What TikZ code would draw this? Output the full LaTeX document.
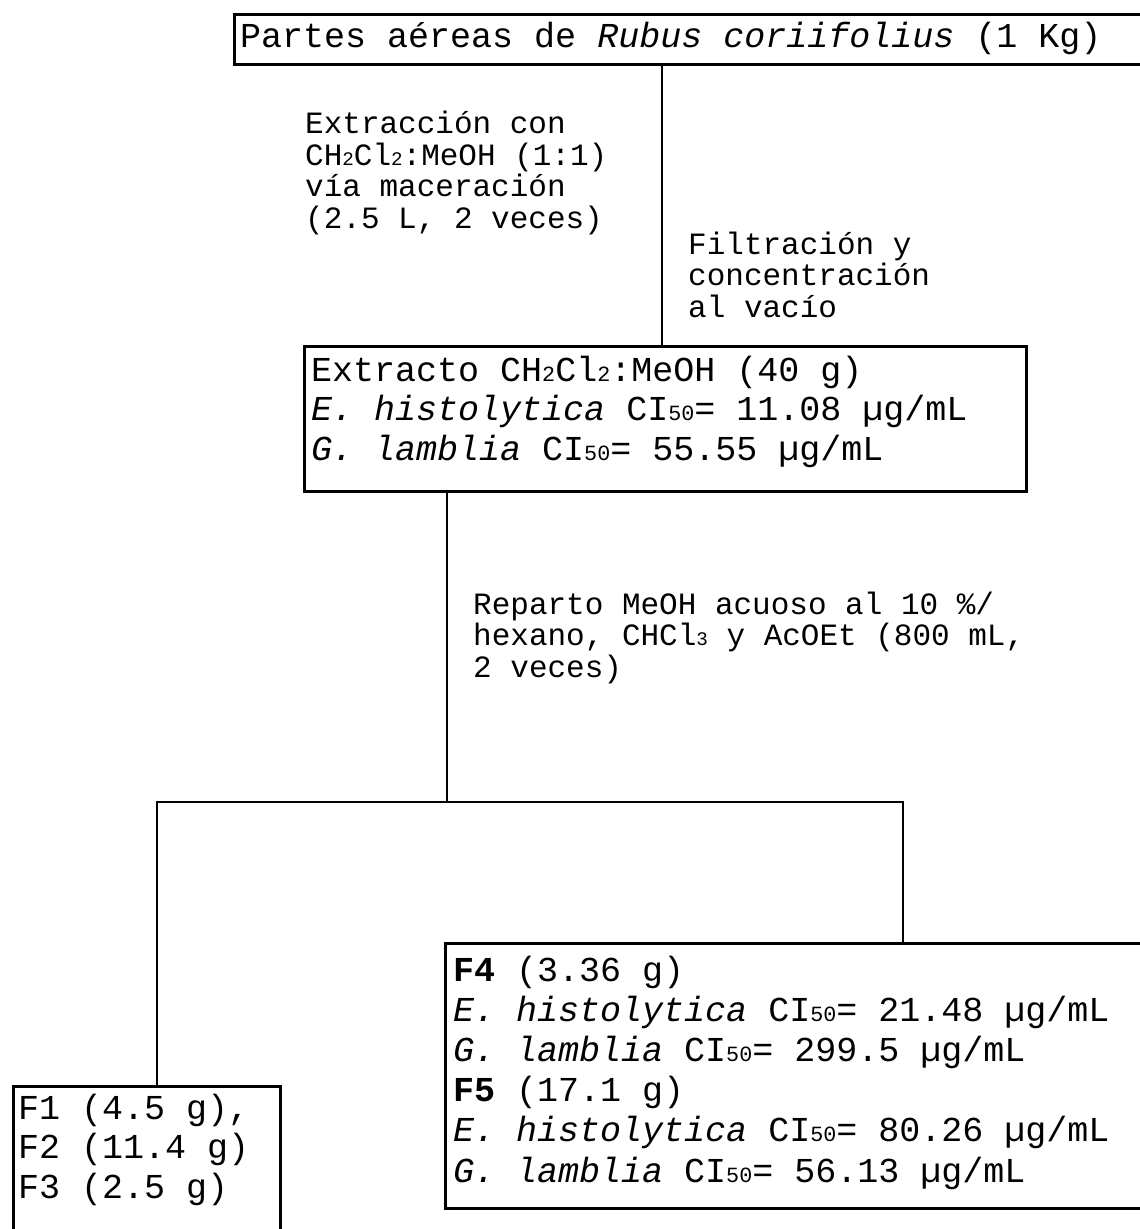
\documentclass[tikz,border=0pt]{standalone}
\usepackage{fontspec}
\setmainfont{Liberation Mono}
\newcommand\smalldig[1]{\scalebox{0.62}{#1}}
\begin{document}
\begin{tikzpicture}[x=1pt,y=-1pt,
  box/.style={draw, line width=3.2pt, inner sep=0pt, anchor=north west},
  txt/.style={inner sep=0pt, anchor=base west, align=left},
  boxtxt/.style={txt, font=\fontsize{35}{39.5}\selectfont},
  lbl/.style={txt, font=\fontsize{31}{31.5}\selectfont},
  conn/.style={line width=2.8pt}]
\useasboundingbox (0,0) rectangle (1140,1229);
\fill[white] (0,0) rectangle (1140,1229);
\clip (0,0) rectangle (1140,1229);
% boxes
\node[box, minimum width=940pt, minimum height=50pt] (top) at (233,13) {};
\node[box, minimum width=722pt, minimum height=145pt] (ext) at (303,345) {};
\node[box, minimum width=267pt, minimum height=200pt] (fr3) at (12,1085) {};
\node[box, minimum width=740pt, minimum height=265pt] (fr45) at (444,942) {};
% texts in boxes (anchor = baseline of last line)
\node[boxtxt] (toptxt) at (240,47) {Partes aéreas de \textit{Rubus coriifolius} (1 Kg)};
\node[boxtxt] (exttxt) at (311,460) {Extracto CH\smalldig{2}Cl\smalldig{2}:MeOH (40 g)\\
  \textit{E. histolytica} CI\smalldig{50}= 11.08 µg/mL\\
  \textit{G. lamblia} CI\smalldig{50}= 55.55 µg/mL};
\node[boxtxt] (fr3txt) at (18,1198) {F1 (4.5 g),\\F2 (11.4 g)\\F3 (2.5 g)};
\node[boxtxt, font=\fontsize{35}{40.2}\selectfont] (fr45txt) at (453,1182) {\textbf{F4} (3.36 g)\\
  \textit{E. histolytica} CI\smalldig{50}= 21.48 µg/mL\\
  \textit{G. lamblia} CI\smalldig{50}= 299.5 µg/mL\\
  \textbf{F5} (17.1 g)\\
  \textit{E. histolytica} CI\smalldig{50}= 80.26 µg/mL\\
  \textit{G. lamblia} CI\smalldig{50}= 56.13 µg/mL};
% labels
\node[lbl] (lab1) at (305,228) {Extracción con\\CH\smalldig{2}Cl\smalldig{2}:MeOH (1:1)\\vía maceración\\(2.5 L, 2 veces)};
\node[lbl] (lab2) at (688,317) {Filtración y\\concentración\\al vacío};
\node[lbl] (lab3) at (473,677) {Reparto MeOH acuoso al 10 \%/\\hexano, CHCl\smalldig{3} y AcOEt (800 mL,\\2 veces)};
% connectors
\coordinate (c1) at (662,0);
\coordinate (j) at (447,802);
\coordinate (jl) at (157,802);
\coordinate (jr) at (903,802);
\draw[conn] (c1 |- top.south) -- (c1 |- ext.north);
\draw[conn] (j |- ext.south) -- (j);
\draw[conn] (jl |- fr3.north) -- (jl) -- (jr) -- (jr |- fr45.north);
\end{tikzpicture}
\end{document}
